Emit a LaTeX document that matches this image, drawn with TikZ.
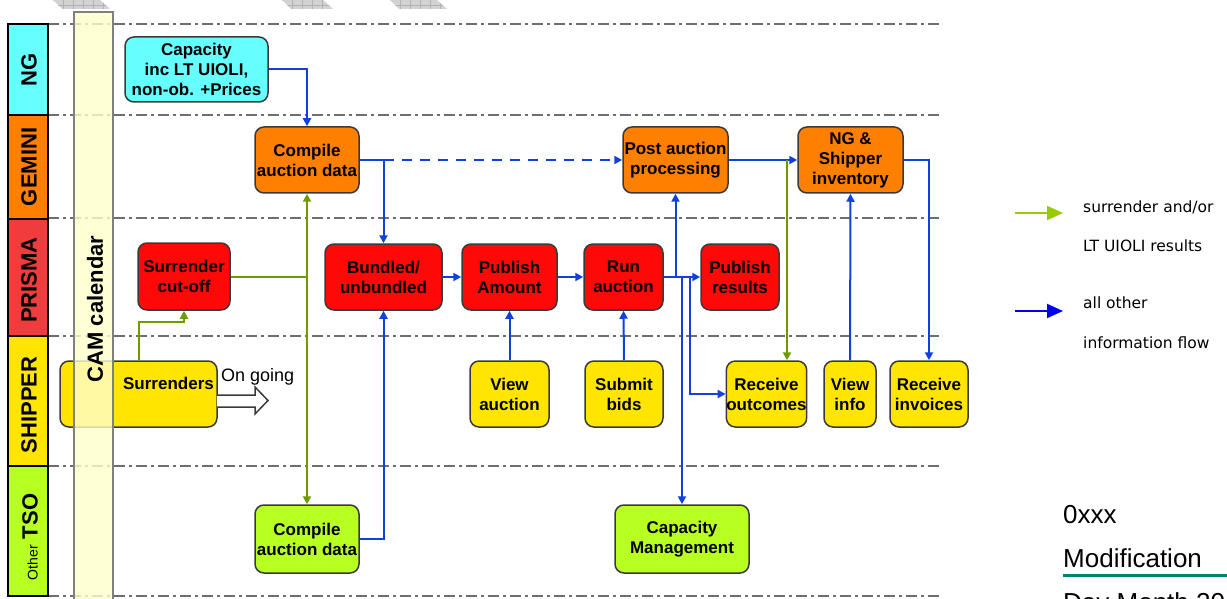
\documentclass[tikz,border=0pt]{standalone}
\usepackage{fontspec}
\setmainfont{Liberation Sans}
\newfontfamily\legfont{DejaVu Sans}
\usetikzlibrary{arrows.meta}

\definecolor{ngcyan}{HTML}{66FFFF}
\definecolor{gemorange}{HTML}{FF7F00}
\definecolor{prisred}{HTML}{FF0808}
\definecolor{prisband}{HTML}{F03C3C}
\definecolor{shipyel}{HTML}{FFE500}
\definecolor{tsogreen}{HTML}{B8FF22}
\definecolor{calyel}{HTML}{FFFFCC}
\definecolor{flowblue}{HTML}{1040DD}
\definecolor{flowgreen}{HTML}{6E9B00}
\definecolor{legreen}{HTML}{99CC00}
\definecolor{leblue}{HTML}{0000EE}
\definecolor{laneline}{HTML}{6E6E6E}
\definecolor{boxedge}{HTML}{3A3A3A}
\definecolor{modteal}{HTML}{00836F}

\tikzset{
  flowbox/.style={draw=boxedge, line width=1.5pt, rounded corners=9pt, inner sep=0pt, align=center, minimum height=66pt, font=\fontsize{17}{20}\selectfont\bfseries},
  lanebox/.style={draw=black, line width=1.2pt},
  lanetxt/.style={rotate=90, inner sep=0pt, font=\fontsize{22}{22}\selectfont\bfseries},
  lanesep/.style={laneline, line width=1.5pt, dash pattern=on 11pt off 4pt on 3pt off 4pt},
  bl/.style={flowblue, line width=2pt, -{Triangle[length=8pt,width=8pt]}},
  gr/.style={flowgreen, line width=2pt, -{Triangle[length=8pt,width=8pt]}},
  legtxt/.style={anchor=west, inner sep=0pt, font=\legfont\fontsize{15.5}{16}\selectfont},
  doctxt/.style={anchor=base west, inner sep=0pt, font=\fontsize{26}{26}\selectfont}
}

\begin{document}
\begin{tikzpicture}[x=1pt,y=-1pt]
\useasboundingbox (0,0) rectangle (1227,599);

\foreach \a/\b in {53/100,282/323,390/437}{
\begin{scope}
\clip (\a,0) -- (\b,0) -- (\b+10,9) -- (\a+9,9) -- cycle;
\fill[gray!35] (\a-2,-2) rectangle (\b+12,11);
\foreach \k in {0,10,...,60} \draw[gray!60, line width=0.8pt] (\a+\k,-1) -- (\a+\k,10);
\draw[gray!60, line width=0.8pt] (\a-2,5) -- (\b+12,5);
\end{scope}}

\foreach \y in {24,115,218,336,466,596} \draw[lanesep] (48,\y) -- (942,\y);

\draw[lanebox, fill=ngcyan] (8,24) rectangle (48,115);
\draw[lanebox, fill=gemorange] (8,115) rectangle (48,219);
\draw[lanebox, fill=prisband] (8,219) rectangle (48,336);
\draw[lanebox, fill=shipyel] (8,336) rectangle (48,466);
\draw[lanebox, fill=tsogreen] (8,466) rectangle (48,596);
\node[lanetxt] (lng) at (29,70) {NG};
\node[lanetxt] (lgem) at (29,167) {GEMINI};
\node[lanetxt] (lpri) at (29,280) {PRISMA};
\node[lanetxt] (lshp) at (29,405) {SHIPPER};
\node[lanetxt] (ltso) at (30,537) {{\fontsize{14}{14}\selectfont\mdseries Other} TSO};

\node[flowbox, fill=ngcyan, minimum width=143pt, minimum height=65pt] (capng) at (196.5,69.5) {Capacity\\inc LT UIOLI,\\non-ob. +Prices};
\node[flowbox, fill=gemorange, minimum width=104pt] (compgem) at (307,160) {Compile\\auction data};
\node[flowbox, fill=gemorange, minimum width=105pt] (postauc) at (675.5,160) {Post auction\\processing};
\node[flowbox, fill=gemorange, minimum width=105pt] (ngship) at (850.5,160) {NG \&\\Shipper\\inventory};

\node[flowbox, fill=prisred, minimum width=92pt, minimum height=67pt] (cutoff) at (184,276.5) {Surrender\\cut-off};
\node[flowbox, fill=prisred, minimum width=117pt] (bundled) at (383.5,277) {Bundled/\\unbundled};
\node[flowbox, fill=prisred, minimum width=95pt] (pubamt) at (509.5,277) {Publish\\Amount};
\node[flowbox, fill=prisred, minimum width=79pt] (runauc) at (623.5,277) {Run\\auction};
\node[flowbox, fill=prisred, minimum width=78pt] (pubres) at (740,277) {Publish\\results};

\node[flowbox, fill=shipyel, minimum width=157pt] (surrend) at (138.5,394) {};
\node[inner sep=0pt, font=\fontsize{17}{20}\selectfont\bfseries] (surrtxt) at (168.5,383) {Surrenders};
\node[flowbox, fill=shipyel, minimum width=79pt] (viewauc) at (509.5,394) {View\\auction};
\node[flowbox, fill=shipyel, minimum width=78pt] (subbids) at (624,394) {Submit\\bids};
\node[flowbox, fill=shipyel, minimum width=79pt] (recvout) at (766.5,394) {Receive\\outcomes};
\node[flowbox, fill=shipyel, minimum width=52pt] (viewinfo) at (850,394) {View\\info};
\node[flowbox, fill=shipyel, minimum width=78pt] (recvinv) at (929,394) {Receive\\invoices};

\node[flowbox, fill=tsogreen, minimum width=104pt, minimum height=68pt] (comptso) at (307,539) {Compile\\auction data};
\node[flowbox, fill=tsogreen, minimum width=134pt, minimum height=68pt] (capmgmt) at (682,539) {Capacity\\Management};

\draw[boxedge, line width=1.5pt, fill=white] (217,395) -- (255,395) -- (255,387) -- (268,400.5) -- (255,414) -- (255,407) -- (217,407);
\node[anchor=west, inner sep=0pt, font=\fontsize{18}{18}\selectfont] (ongoing) at (221,377) {On going};

\draw[bl] (capng.east) -| (compgem.north);
\draw[bl] (compgem.east) -| (bundled.north);
\draw[bl, dash pattern=on 10pt off 8pt] (compgem.east -| bundled.north) -- (postauc.west);
\draw[gr] (cutoff.east) -| (compgem.south);
\draw[gr] (cutoff.east -| compgem.south) -- (comptso.north);
\draw[gr] (surrend.north) -- ++(0,-38) -| (cutoff.south);
\draw[bl] (comptso.east) -| (bundled.south);
\draw[bl] (bundled.east) -- (pubamt.west);
\draw[bl] (pubamt.east) -- (runauc.west);
\draw[bl] (viewauc.north) -- (pubamt.south);
\draw[bl] (subbids.north) -- (runauc.south);
\draw[bl] (runauc.east) -- (pubres.west);
\draw[bl] (runauc.east) -| (postauc.south);
\draw[bl] (runauc.east) -| (capmgmt.north);
\draw[bl] (runauc.east) -- ++(26,0) |- (recvout.west);
\draw[bl] (postauc.east) -- (ngship.west);
\coordinate (gsplit) at (787,160);
\draw[gr] (gsplit) -- (gsplit |- recvout.north);
\draw[bl] (viewinfo.north) -- (ngship.south);
\draw[bl] (ngship.east) -| (recvinv.north);

\fill[calyel, fill opacity=0.8] (74,12) rectangle (113,605);
\draw[gray, line width=1.2pt] (74,605) -- (74,12) -- (113,12) -- (113,605);
\node[lanetxt] (camcal) at (95,309) {CAM calendar};

\coordinate (lgga) at (1015,213);
\coordinate (lggb) at (1063,213);
\draw[legreen, line width=2pt, -{Triangle[length=16pt,width=14pt]}] (lgga) -- (lggb);
\node[legtxt] (lgt1) at (1083,207) {surrender and/or};
\node[legtxt] (lgt2) at (1083,246) {LT UIOLI results};
\coordinate (lgba) at (1015,311);
\coordinate (lgbb) at (1063,311);
\draw[leblue, line width=2pt, -{Triangle[length=16pt,width=14pt]}] (lgba) -- (lgbb);
\node[legtxt] (lgt3) at (1083,303) {all other};
\node[legtxt] (lgt4) at (1083,343) {information flow};

\node[doctxt] (docno) at (1063,523) {0xxx};
\node[doctxt] (docmod) at (1063,567) {Modification};
\draw[modteal, line width=3pt] (docmod.south west |- 0,575) -- (1230,575);
\node[doctxt] (docdate) at (1063,611) {Day Month 20};
\end{tikzpicture}
\end{document}
